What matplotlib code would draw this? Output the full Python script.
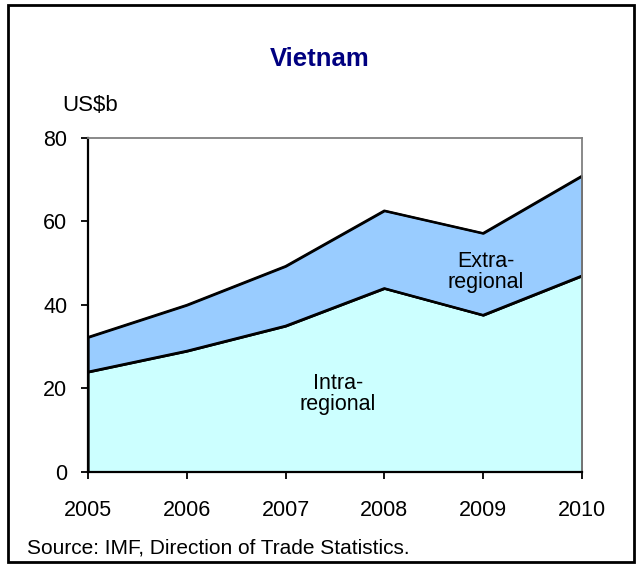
import matplotlib
matplotlib.use("Agg")
import matplotlib.pyplot as plt
from matplotlib.patches import Rectangle
import numpy as np

plt.rcParams["font.family"] = ["Liberation Sans", "DejaVu Sans"]

years = [2005, 2006, 2007, 2008, 2009, 2010]
intra = [24.0, 29.0, 35.0, 44.0, 37.6, 47.0]
extra = [8.3, 11.0, 14.3, 18.6, 19.6, 23.9]

x = np.arange(len(years))
intra = np.array(intra)
total = intra + np.array(extra)

fig = plt.figure(figsize=(6.4, 5.65), dpi=100)
ax = fig.add_axes([0.1375, 0.1646, 0.7715, 0.5912])

ax.fill_between(x, 0, intra, facecolor="#CCFFFF", edgecolor="black", lw=1.6)
ax.fill_between(x, intra, total, facecolor="#99CCFF", edgecolor="black", lw=1.6)
ax.plot(x, intra, color="black", lw=1.6)
ax.plot(x, total, color="black", lw=1.6)

ax.set_xlim(0, len(years) - 1)
ax.set_ylim(0, 80)
ax.set_yticks([0, 20, 40, 60, 80])
ax.set_xticks(x)
ax.set_xticklabels([str(y) for y in years])
ax.tick_params(axis="both", direction="out", length=5, width=1.3, labelsize=15.5, colors="black")
ax.tick_params(axis="x", pad=15)
ax.tick_params(axis="y", pad=10)

ax.spines["left"].set_color("black")
ax.spines["left"].set_linewidth(1.6)
ax.spines["bottom"].set_color("black")
ax.spines["bottom"].set_linewidth(1.6)
ax.spines["top"].set_color("#808080")
ax.spines["top"].set_linewidth(1.3)
ax.spines["right"].set_color("#808080")
ax.spines["right"].set_linewidth(1.3)

ax.text(4.03, 48, "Extra-\nregional", ha="center", va="center", fontsize=15.5,
        linespacing=1.0)
ax.text(2.53, 18.8, "Intra-\nregional", ha="center", va="center", fontsize=15.5,
        linespacing=1.0)

fig.text(0.5, 1 - 59 / 565, "Vietnam", ha="center", va="center", fontsize=18.5,
         fontweight="bold", color="#000080")
fig.text(62 / 640, 1 - 105 / 565, "US$b", ha="left", va="center", fontsize=16)
fig.text(27 / 640, 1 - 548 / 565, "Source: IMF, Direction of Trade Statistics.",
         ha="left", va="center", fontsize=15)

fig.patches.append(Rectangle((8 / 640, 3 / 565), 626 / 640, 557 / 565,
                             transform=fig.transFigure, fill=False,
                             edgecolor="black", lw=2))

fig.savefig("out.png", dpi=100)
